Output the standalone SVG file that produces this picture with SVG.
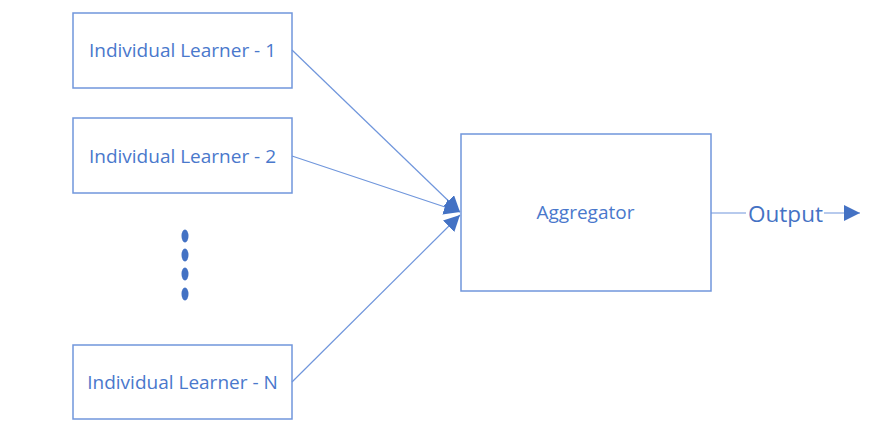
<svg xmlns="http://www.w3.org/2000/svg" width="889" height="436" viewBox="0 0 889 436">
<style>
.box{fill:#fff;stroke:#7096dc;stroke-width:1.5}
.lbl{font-family:"Open Sans","Liberation Sans",sans-serif;font-size:19px;fill:#4a78cc;text-anchor:middle;dominant-baseline:central}
.edge{stroke:#7096dc;stroke-width:1.2;fill:none}
.dot{fill:#4472C4}
</style>
<defs>
<marker id="ahb" viewBox="0 0 10 10" refX="10" refY="5" markerWidth="16" markerHeight="16" markerUnits="userSpaceOnUse" orient="auto">
<path d="M0,0 L10,5 L0,10 z" fill="#4472C4"/>
</marker>
</defs>
<g id="learner1"><rect class="box" x="73" y="13" width="219" height="75"/><text class="lbl" x="182.5" y="50">Individual Learner - 1</text></g>
<g id="learner2"><rect class="box" x="73" y="118" width="219" height="75"/><text class="lbl" x="182.5" y="155.5">Individual Learner - 2</text></g>
<g id="learnerN"><rect class="box" x="73" y="345" width="219" height="74"/><text class="lbl" x="182.5" y="382">Individual Learner - N</text></g>
<g id="dots">
<ellipse class="dot" cx="185" cy="236" rx="3.5" ry="6.5"/>
<ellipse class="dot" cx="185" cy="255" rx="3.5" ry="6.5"/>
<ellipse class="dot" cx="185" cy="274" rx="3.5" ry="6.5"/>
<ellipse class="dot" cx="185" cy="294" rx="3.5" ry="6.5"/>
</g>
<g id="aggregator"><rect class="box" x="461" y="134" width="250" height="157"/><text class="lbl" x="585.5" y="212">Aggregator</text></g>
<g id="output"><text x="785.5" y="213" style="font-family:'Open Sans','Liberation Sans',sans-serif;font-size:22.5px;fill:#4472C4;text-anchor:middle;dominant-baseline:central">Output</text></g>
<g id="connectors">
<line class="edge" x1="292" y1="50" x2="460" y2="212" marker-end="url(#ahb)"/>
<line class="edge" x1="292" y1="156" x2="460" y2="212" marker-end="url(#ahb)"/>
<line class="edge" x1="292" y1="382" x2="460" y2="215" marker-end="url(#ahb)"/>
<line class="edge" x1="711" y1="213" x2="746" y2="213"/>
<line class="edge" x1="824" y1="213" x2="860" y2="213" marker-end="url(#ahb)"/>
</g>
</svg>
